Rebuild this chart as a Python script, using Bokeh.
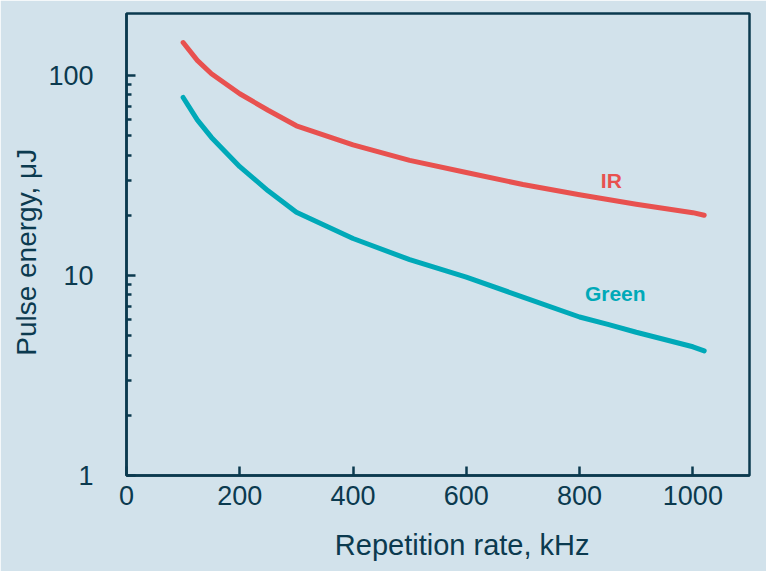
from bokeh.plotting import figure
from bokeh.models import FixedTicker, NumeralTickFormatter, Range1d
from bokeh.core.properties import value
from bokeh.embed import file_html
from bokeh.resources import INLINE

# Data
rate_khz = [100, 125, 150, 200, 250, 300, 400, 500, 600, 700, 800, 850, 900, 1000, 1020]
ir_uj = [146, 119, 102, 81, 67, 56, 45, 37.6, 32.7, 28.5, 25.3, 24.0, 22.7, 20.6, 20]
green_uj = [77.6, 60, 49, 35, 26.5, 20.7, 15.3, 12.0, 9.8, 7.8, 6.2, 5.7, 5.2, 4.4, 4.2]
x_ticks = [0, 200, 400, 600, 800, 1000]
y_ticks = [1, 10, 100]
y_minor = [2, 3, 4, 5, 6, 7, 8, 9, 20, 30, 40, 50, 60, 70, 80, 90]
labels = ["IR", "Green"]
label_x = [856, 863]
label_y = [29.9, 8.1]

BG = "#d2e2eb"
NAVY = "#0b3a4f"
RED = "#e8514f"
TEAL = "#00a9b8"
FONT = "Liberation Sans"
NBSP = "\u00a0"

p = figure(width=766, height=571, y_axis_type="log",
           x_range=Range1d(0, 1100), y_range=Range1d(1, 204),
           output_backend="svg", toolbar_location=None,
           background_fill_color=BG, border_fill_color=BG,
           min_border_left=126, min_border_right=17,
           min_border_top=13, min_border_bottom=96)
p.grid.visible = False
p.outline_line_color = NAVY
p.outline_line_width = 2.5

p.line(rate_khz, ir_uj, line_color=RED, line_width=5, line_cap="round", line_join="round")
p.line(rate_khz, green_uj, line_color=TEAL, line_width=5, line_cap="round", line_join="round")

p.text(x=label_x[:1], y=label_y[:1], text=labels[:1], text_color=RED,
       text_font=value(FONT), text_font_size="21px", text_font_style="bold",
       text_align="center", text_baseline="middle")
p.text(x=label_x[1:], y=label_y[1:], text=labels[1:], text_color=TEAL,
       text_font=value(FONT), text_font_size="21px", text_font_style="bold",
       text_align="center", text_baseline="middle")

for ax in (p.xaxis[0], p.yaxis[0]):
    ax.axis_line_color = NAVY
    ax.axis_line_width = 2.5
    ax.major_tick_line_color = NAVY
    ax.major_tick_line_width = 2.5
    ax.minor_tick_line_color = NAVY
    ax.minor_tick_line_width = 2.5
    ax.major_tick_in = 9
    ax.major_tick_out = 0
    ax.minor_tick_in = 5
    ax.minor_tick_out = 0
    ax.major_label_text_font = FONT
    ax.major_label_text_font_size = "27px"
    ax.major_label_text_color = NAVY
    ax.axis_label_text_font = FONT
    ax.axis_label_text_font_style = "normal"
    ax.axis_label_text_color = NAVY

p.xaxis.axis_label_text_font_size = "29px"
p.yaxis.axis_label_text_font_size = "28px"
p.xaxis.ticker = FixedTicker(ticks=x_ticks, minor_ticks=[])
p.yaxis.ticker = FixedTicker(ticks=y_ticks, minor_ticks=y_minor)
p.yaxis.formatter = NumeralTickFormatter(format="0")
p.xaxis.axis_label = NBSP * 6 + "Repetition rate, kHz"
p.yaxis.axis_label = "Pulse energy, μJ" + NBSP * 2
p.xaxis.major_label_standoff = 10
p.yaxis.major_label_standoff = 33
p.xaxis.axis_label_standoff = 21
p.yaxis.axis_label_standoff = 3

html = file_html(p, INLINE)
open("out.html", "w").write(html)
